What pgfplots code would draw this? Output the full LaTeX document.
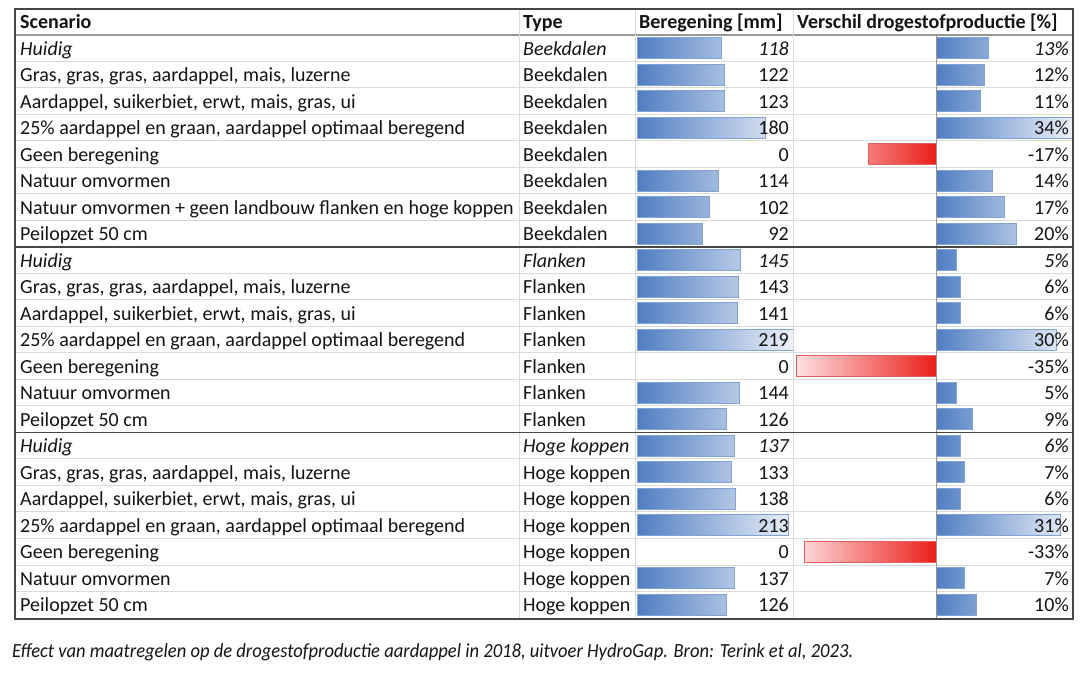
\documentclass[border=0pt]{standalone}
\usepackage{pgfplots}
\pgfplotsset{compat=1.18}
\usepackage{pgfplotstable}
\usepackage{graphicx}
\usepackage{fontspec}
\setmainfont{Carlito}
\definecolor{barblue}{RGB}{80,126,194}
\definecolor{barbluelight}{RGB}{236,241,249}
\definecolor{barblueedge}{RGB}{128,162,212}
\definecolor{barred}{RGB}{236,30,26}
\definecolor{barredlight}{RGB}{252,225,225}
\definecolor{barrededge}{RGB}{230,95,95}
\definecolor{gridgray}{RGB}{218,218,218}
\definecolor{midgray}{RGB}{150,150,150}
\definecolor{framegray}{RGB}{70,70,70}
\definecolor{txt}{RGB}{20,20,20}

\pgfplotstableread{
row ber
0 118
1 122
2 123
3 180
5 114
6 102
7 92
8 145
9 143
10 141
11 219
13 144
14 126
15 137
16 133
17 138
18 213
20 137
21 126
}\bertable
\pgfplotstableread{
row ver
0 13
1 12
2 11
3 34
5 14
6 17
7 20
8 5
9 6
10 6
11 30
13 5
14 9
15 6
16 7
17 6
18 31
20 7
21 10
}\verpos
\pgfplotstableread{
row ver
4 -17
12 -35
19 -33
}\verneg

\pgfplotsset{tablebars/.style={
  scale only axis, hide axis, anchor=north west,
  ymin=-0.5, ymax=21.5, y dir=reverse, height=583pt,
  xbar, bar width=21pt, bar shift=0pt, clip=false}}

\newcommand\rf[1]{\ifnum#1=1\relax\itshape\fi}
\newcommand\trow[6]{%
  \pgfmathsetmacro\yb{672-35-26.5*(#1+0.5)-7.2}%
  \node[anchor=base west,inner sep=0pt,txt] at (20,\yb) {\rf{#6}#2};
  \node[anchor=base west,inner sep=0pt,txt] at (523,\yb) {\rf{#6}#3};
  \node[anchor=base east,inner sep=0pt,txt] at (789,\yb) {\rf{#6}#4};
  \node[anchor=base east,inner sep=0pt,txt] at (1069,\yb) {\rf{#6}#5\%};
}

\begin{document}
\begin{tikzpicture}[x=1pt,y=1pt,font=\fontsize{20}{23}\selectfont]
\path[fill=white] (0,0) rectangle (1086,672);

% Beregening bars
\begin{axis}[tablebars, at={(637pt,637pt)}, width=156pt, xmin=0, xmax=219]
\addplot[draw=barblueedge, line width=0.8pt, left color=barblue, right color=barbluelight]
  table[x=ber,y=row] {\bertable};
\end{axis}

% Verschil bars
\begin{axis}[tablebars, at={(793pt,637pt)}, width=280pt, xmin=-35.75, xmax=34.25]
\addplot[draw=barblueedge, line width=0.8pt, left color=barblue, right color=barbluelight]
  table[x=ver,y=row] {\verpos};
\addplot[draw=barrededge, line width=0.8pt, left color=barredlight, right color=barred]
  table[x=ver,y=row] {\verneg};
\end{axis}

% grid lines
\foreach \k in {1,...,21}{
  \ifnum\k=8\else\ifnum\k=15\else
  \draw[gridgray, line width=1pt] (15,{672-35-26.5*\k}) -- (1073,{672-35-26.5*\k});
  \fi\fi
}
\draw[midgray, line width=1.2pt] (15,637) -- (1073,637);
\foreach \x in {519,635,793}{
  \draw[gridgray, line width=1pt] (\x,663) -- (\x,53);
}
\draw[midgray, line width=1pt] (936,637) -- (936,53);
\draw[framegray, line width=1.6pt] (15,{672-35-26.5*8}) -- (1073,{672-35-26.5*8});
\draw[framegray, line width=1.6pt] (15,{672-35-26.5*15}) -- (1073,{672-35-26.5*15});
\draw[framegray, line width=1.6pt] (15,663) rectangle (1073,53);

% header
\node[anchor=base west,inner sep=0pt,txt,font=\fontsize{20}{23}\selectfont\bfseries] at (20,643) {Scenario};
\node[anchor=base west,inner sep=0pt,txt,font=\fontsize{20}{23}\selectfont\bfseries] at (523,643) {Type};
\node[anchor=base west,inner sep=0pt,txt,font=\fontsize{20}{23}\selectfont\bfseries] at (639,643) {Beregening [mm]};
\node[anchor=base west,inner sep=0pt,txt,font=\fontsize{20}{23}\selectfont\bfseries] at (797,643) {Verschil drogestofproductie [\%]};

% rows
\trow{0}{Huidig}{Beekdalen}{118}{13}{1}
\trow{1}{Gras, gras, gras, aardappel, mais, luzerne}{Beekdalen}{122}{12}{0}
\trow{2}{Aardappel, suikerbiet, erwt, mais, gras, ui}{Beekdalen}{123}{11}{0}
\trow{3}{25\% aardappel en graan, aardappel optimaal beregend}{Beekdalen}{180}{34}{0}
\trow{4}{Geen beregening}{Beekdalen}{0}{-17}{0}
\trow{5}{Natuur omvormen}{Beekdalen}{114}{14}{0}
\trow{6}{Natuur omvormen + geen landbouw flanken en hoge koppen}{Beekdalen}{102}{17}{0}
\trow{7}{Peilopzet 50 cm}{Beekdalen}{92}{20}{0}
\trow{8}{Huidig}{Flanken}{145}{5}{1}
\trow{9}{Gras, gras, gras, aardappel, mais, luzerne}{Flanken}{143}{6}{0}
\trow{10}{Aardappel, suikerbiet, erwt, mais, gras, ui}{Flanken}{141}{6}{0}
\trow{11}{25\% aardappel en graan, aardappel optimaal beregend}{Flanken}{219}{30}{0}
\trow{12}{Geen beregening}{Flanken}{0}{-35}{0}
\trow{13}{Natuur omvormen}{Flanken}{144}{5}{0}
\trow{14}{Peilopzet 50 cm}{Flanken}{126}{9}{0}
\trow{15}{Huidig}{Hoge koppen}{137}{6}{1}
\trow{16}{Gras, gras, gras, aardappel, mais, luzerne}{Hoge koppen}{133}{7}{0}
\trow{17}{Aardappel, suikerbiet, erwt, mais, gras, ui}{Hoge koppen}{138}{6}{0}
\trow{18}{25\% aardappel en graan, aardappel optimaal beregend}{Hoge koppen}{213}{31}{0}
\trow{19}{Geen beregening}{Hoge koppen}{0}{-33}{0}
\trow{20}{Natuur omvormen}{Hoge koppen}{137}{7}{0}
\trow{21}{Peilopzet 50 cm}{Hoge koppen}{126}{10}{0}

% caption
\node[anchor=base west,inner sep=0pt,txt] at (12,15) {\resizebox{841pt}{\height}{\itshape Effect van maatregelen op de drogestofproductie aardappel in 2018, uitvoer HydroGap. Bron: Terink et al, 2023.}};
\end{tikzpicture}
\end{document}
